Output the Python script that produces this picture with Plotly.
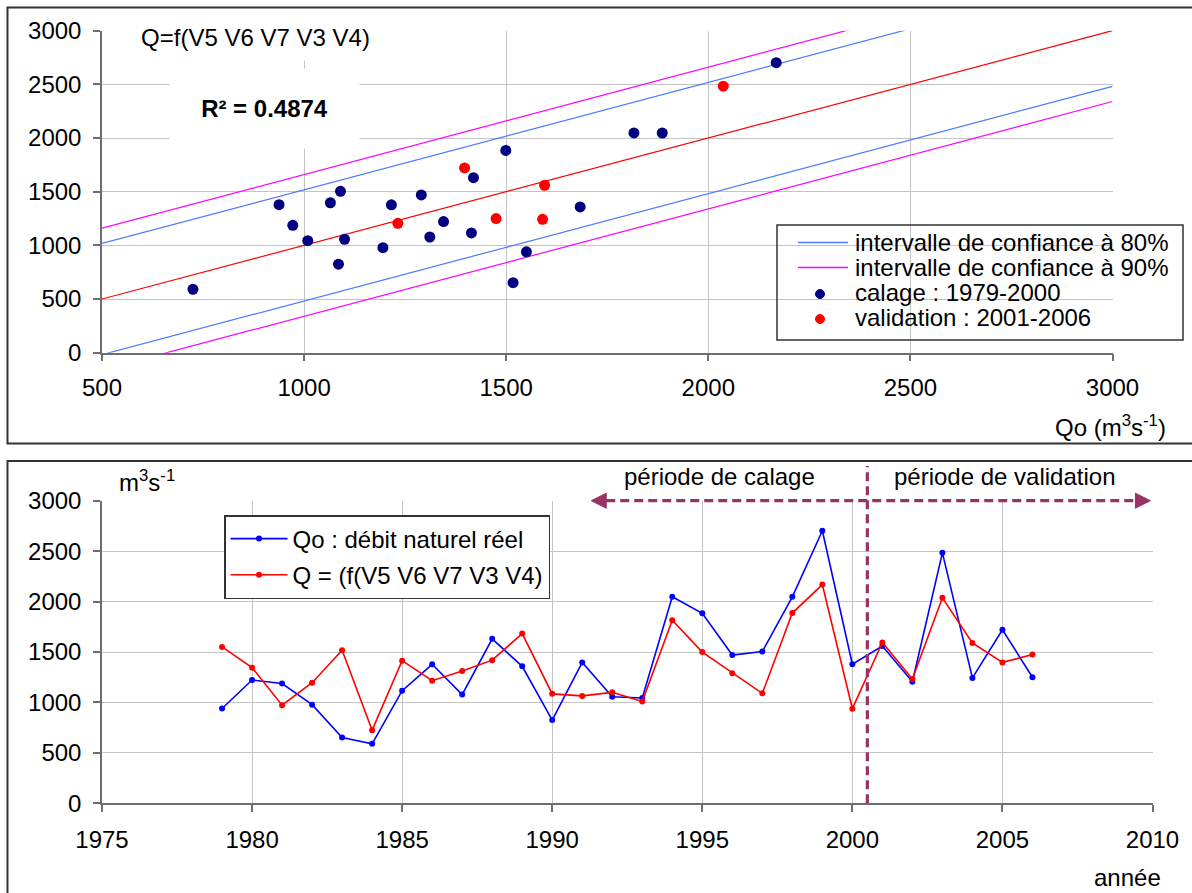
import plotly.graph_objects as go

# ---- data -------------------------------------------------------------
years = list(range(1979, 2007))
# observed natural discharge Qo (m3/s)
qo_obs = [940, 1222, 1187, 978, 652, 590, 1116, 1378, 1078, 1631,
          1358, 825, 1397, 1057, 1044, 2048, 1884, 1470, 1504, 2047,
          2702, 1379, 1560, 1205, 2483, 1243, 1721, 1250]
# modelled discharge Q = f(V5 V6 V7 V3 V4) (m3/s)
q_model = [1550, 1345, 972, 1195, 1517, 725, 1414, 1216, 1311, 1419,
           1683, 1085, 1065, 1100, 1009, 1816, 1499, 1290, 1090, 1886,
           2168, 938, 1595, 1232, 2037, 1590, 1397, 1475]

last_calibration_year = 2000
r2_text = "R² = 0.4874"
ci80_halfwidth = 518
ci90_halfwidth = 660
q_axis_min, q_axis_max = 500, 3000
period_split = 2000.5
calage_arrow_start = 1991.3
validation_arrow_end = 2009.93

band_labels = ["intervalle de confiance à 80%", "intervalle de confiance à 90%"]
point_labels = ["calage : 1979-2000", "validation : 2001-2006"]
series_labels = ["Qo : débit naturel réel", "Q = (f(V5 V6 V7 V3 V4)"]

# ---- page geometry (pixels of a 1192 x 893 page) -----------------------
W, H = 1192, 893
def px(x):
    return x / W
def py(y):
    return 1 - y / H

X1_DOM = [px(102), px(1112.5)]
Y1_DOM = [py(352.7), py(30.7)]
X2_DOM = [px(102), px(1152.5)]
Y2_DOM = [py(803.3), py(500.7)]
YEAR_MIN, YEAR_MAX = 1975, 2010

def year_to_paper(yr):
    return X2_DOM[0] + (yr - YEAR_MIN) / (YEAR_MAX - YEAR_MIN) * (X2_DOM[1] - X2_DOM[0])

FONT = "Liberation Sans, Arial, sans-serif"
PLUM = "#993366"
AXIS_COL = "#6e6e6e"
GRID_COL = "#c4c4c4"
BLUE_BAND = "#4d79ff"
MAGENTA = "#ff00ff"
NAVY = "#000080"
RED = "#ff0000"

cal = [i for i, y in enumerate(years) if y <= last_calibration_year]
val = [i for i, y in enumerate(years) if y > last_calibration_year]

fig = go.Figure()

# ---- top panel: Q versus Qo with confidence bands -----------------------
line_x = [q_axis_min, q_axis_max]
fig.add_trace(go.Scatter(
    x=line_x, y=line_x, mode="lines", line=dict(color=RED, width=1.2),
    showlegend=False, hoverinfo="skip", xaxis="x", yaxis="y"))

def band(h):
    xs = [q_axis_min, q_axis_max, None, q_axis_min, q_axis_max]
    ys = [q_axis_min + h, q_axis_max + h, None, q_axis_min - h, q_axis_max - h]
    return xs, ys

for h, col, name in [(ci80_halfwidth, BLUE_BAND, band_labels[0]),
                     (ci90_halfwidth, MAGENTA, band_labels[1])]:
    bx, by = band(h)
    fig.add_trace(go.Scatter(
        x=bx, y=by, mode="lines", line=dict(color=col, width=1.2),
        name=name, showlegend=False, xaxis="x", yaxis="y"))

fig.add_trace(go.Scatter(
    x=[q_model[i] for i in cal], y=[qo_obs[i] for i in cal], mode="markers",
    marker=dict(color=NAVY, size=11), name=point_labels[0],
    showlegend=False, xaxis="x", yaxis="y"))
fig.add_trace(go.Scatter(
    x=[q_model[i] for i in val], y=[qo_obs[i] for i in val], mode="markers",
    marker=dict(color=RED, size=11), name=point_labels[1],
    showlegend=False, xaxis="x", yaxis="y"))

# ---- bottom panel: time series -----------------------------------------
fig.add_trace(go.Scatter(
    x=years, y=qo_obs, mode="lines+markers",
    line=dict(color="#0000ff", width=1.6), marker=dict(size=6, color="#0000ff"),
    name=series_labels[0], legend="legend", legendgroup="qo",
    xaxis="x2", yaxis="y2"))
fig.add_trace(go.Scatter(
    x=years, y=q_model, mode="lines+markers",
    line=dict(color=RED, width=1.6), marker=dict(size=6, color=RED),
    name=series_labels[1], legend="legend", legendgroup="q",
    xaxis="x2", yaxis="y2"))

axis_common = dict(
    showgrid=True, gridcolor=GRID_COL, gridwidth=1,
    showline=True, linecolor=AXIS_COL, linewidth=1.5,
    ticks="outside", ticklen=7, tickwidth=1.5, tickcolor=AXIS_COL,
    tickfont=dict(size=24, color="#000000", family=FONT),
    zeroline=False, fixedrange=True, automargin=False,
)

shapes = []
# panel frames
shapes.append(dict(type="rect", xref="paper", yref="paper",
                   x0=px(7.5), x1=px(1230), y0=py(443.5), y1=py(7.5),
                   line=dict(color="#333333", width=2), fillcolor="rgba(0,0,0,0)",
                   layer="below"))
shapes.append(dict(type="rect", xref="paper", yref="paper",
                   x0=px(7.5), x1=px(1230), y0=py(940), y1=py(461),
                   line=dict(color="#333333", width=2), fillcolor="rgba(0,0,0,0)",
                   layer="below"))

# key of the top panel (transparent box, grid shows through)
key_rows = [242.5, 267.5, 292, 317]
shapes.append(dict(type="rect", xref="paper", yref="paper",
                   x0=px(777), x1=px(1183), y0=py(340), y1=py(225),
                   line=dict(color="#333333", width=1.5), fillcolor="rgba(0,0,0,0)",
                   layer="above"))
for row, col in zip(key_rows[:2], [BLUE_BAND, MAGENTA]):
    shapes.append(dict(type="line", xref="paper", yref="paper",
                       x0=px(798), x1=px(848), y0=py(row), y1=py(row),
                       line=dict(color=col, width=1.5), layer="above"))
for row, col in zip(key_rows[2:], [NAVY, RED]):
    r = 4.5
    shapes.append(dict(type="circle", xref="paper", yref="paper",
                       x0=px(820 - r), x1=px(820 + r), y0=py(row + 2 + r), y1=py(row + 2 - r),
                       line=dict(color=col, width=1), fillcolor=col, layer="above"))

# calibration / validation period markers
arrow_y = Y2_DOM[1]
head_len = 15 / W
head_half = 7.5 / H
x_left = year_to_paper(calage_arrow_start)
x_right = year_to_paper(validation_arrow_end)
shapes.append(dict(type="line", xref="paper", yref="paper",
                   x0=x_left + head_len, x1=x_right - head_len, y0=arrow_y, y1=arrow_y,
                   line=dict(color=PLUM, width=3.2, dash="9px,5px"), layer="above"))
shapes.append(dict(type="line", xref="paper", yref="paper",
                   x0=year_to_paper(period_split), x1=year_to_paper(period_split),
                   y0=Y2_DOM[0], y1=py(466),
                   line=dict(color=PLUM, width=3.2, dash="9px,5px"), layer="above"))
shapes.append(dict(type="path", xref="paper", yref="paper",
                   path=f"M {x_left},{arrow_y} L {x_left + head_len},{arrow_y + head_half} "
                        f"L {x_left + head_len},{arrow_y - head_half} Z",
                   fillcolor=PLUM, line=dict(color=PLUM, width=1), layer="above"))
shapes.append(dict(type="path", xref="paper", yref="paper",
                   path=f"M {x_right},{arrow_y} L {x_right - head_len},{arrow_y + head_half} "
                        f"L {x_right - head_len},{arrow_y - head_half} Z",
                   fillcolor=PLUM, line=dict(color=PLUM, width=1), layer="above"))

txt = dict(family=FONT, size=24, color="#000000")
annotations = [
    dict(text="Q=f(V5 V6 V7 V3 V4)", x=px(255.5), y=py(37), xref="paper", yref="paper",
         showarrow=False, font=txt, bgcolor="#ffffff", width=279, height=46,
         borderpad=0, xanchor="center", yanchor="middle"),
    dict(text=f"<b>{r2_text}</b>", x=px(264.5), y=py(108.5), xref="paper", yref="paper",
         showarrow=False, font=txt, bgcolor="#ffffff", width=189, height=79,
         borderpad=0, xanchor="center", yanchor="middle"),
    dict(text="Qo (m<sup>3</sup>s<sup>-1</sup>)", x=px(1110), y=py(426), xref="paper",
         yref="paper", showarrow=False, font=txt, xanchor="center", yanchor="middle"),
    dict(text="m<sup>3</sup>s<sup>-1</sup>", x=px(146.5), y=py(481), xref="paper",
         yref="paper", showarrow=False, font=txt, xanchor="center", yanchor="middle"),
    dict(text="année", x=px(1127), y=py(877), xref="paper", yref="paper",
         showarrow=False, font=txt, xanchor="center", yanchor="middle"),
    dict(text="période de calage", x=px(719), y=py(476), xref="paper", yref="paper",
         showarrow=False, font=txt, xanchor="center", yanchor="middle"),
    dict(text="période de validation", x=px(1004.5), y=py(476), xref="paper",
         yref="paper", showarrow=False, font=txt, xanchor="center", yanchor="middle"),
]
for row, label in zip(key_rows, band_labels + point_labels):
    annotations.append(dict(text=label, x=px(854), y=py(row), xref="paper", yref="paper",
                            showarrow=False, font=txt, xanchor="left", yanchor="middle",
                            borderpad=0))

fig.update_layout(
    template="none",
    width=W, height=H, autosize=False,
    margin=dict(l=0, r=0, t=0, b=0, pad=0, autoexpand=False),
    paper_bgcolor="#ffffff", plot_bgcolor="#ffffff",
    font=dict(family=FONT, size=24, color="#000000"),
    xaxis=dict(domain=X1_DOM, range=[q_axis_min, q_axis_max], tick0=500, dtick=500,
               anchor="y", ticklabelstandoff=6, **axis_common),
    yaxis=dict(domain=Y1_DOM, range=[0, 3000], tick0=0, dtick=500,
               anchor="x", ticklabelstandoff=7, **axis_common),
    xaxis2=dict(domain=X2_DOM, range=[YEAR_MIN, YEAR_MAX], tick0=1975, dtick=5,
                anchor="y2", ticklabelstandoff=7, **axis_common),
    yaxis2=dict(domain=Y2_DOM, range=[0, 3000], tick0=0, dtick=500,
                anchor="x2", ticklabelstandoff=7, **axis_common),
    legend=dict(x=px(224), y=py(515), xanchor="left", yanchor="top",
                bgcolor="#ffffff", bordercolor="#333333", borderwidth=1.5,
                font=dict(family=FONT, size=24, color="#000000"),
                itemwidth=57, tracegroupgap=2),
    shapes=shapes,
    annotations=annotations,
    showlegend=True,
)

fig.write_html("out.html")
